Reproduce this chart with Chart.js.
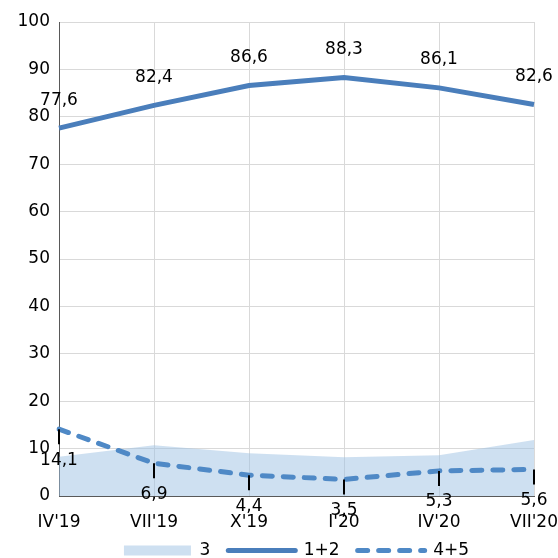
<!DOCTYPE html>
<html>
<head>
<meta charset="utf-8">
<script src="https://cdn.jsdelivr.net/npm/chart.js@4/dist/chart.umd.min.js"></script>
<style>
  html, body { margin: 0; padding: 0; background: #ffffff; }
  #wrap { width: 558px; height: 558px; }
</style>
</head>
<body>
<div id="wrap"><canvas id="chart" width="558" height="558"></canvas></div>
<script>
// Survey shares by quarter (percent)
const categories = ["IV'19", "VII'19", "X'19", "I'20", "IV'20", "VII'20"];
const share3  = [8.3, 10.7, 9.0, 8.2, 8.6, 11.8];
const share12 = [77.6, 82.4, 86.6, 88.3, 86.1, 82.6];
const share45 = [14.1, 6.9, 4.4, 3.5, 5.3, 5.6];
const seriesNames = ["3", "1+2", "4+5"];

const FONT = "'DejaVu Sans', Verdana, sans-serif";
const BLUE_SOLID = '#4a7ebb';
const BLUE_DASH = '#4f89c6';
const AREA_FILL = 'rgba(158, 194, 228, 0.5)';

const fmt = v => v.toFixed(1).replace('.', ',');

// Value labels: above the solid line, below the dashed line with a short leader
const valueLabels = {
  id: 'valueLabels',
  afterDatasetsDraw(chart) {
    const ctx = chart.ctx;
    ctx.save();
    ctx.font = '17px ' + FONT;
    ctx.fillStyle = '#000000';
    ctx.textAlign = 'center';
    ctx.textBaseline = 'middle';
    chart.data.datasets.forEach((ds, i) => {
      if (!ds.labelMode) return;
      const meta = chart.getDatasetMeta(i);
      meta.data.forEach((pt, j) => {
        const txt = fmt(ds.data[j]);
        if (ds.labelMode === 'above') {
          ctx.fillText(txt, pt.x, pt.y - 28);
        } else {
          ctx.strokeStyle = '#000000';
          ctx.lineWidth = 2;
          ctx.beginPath();
          ctx.moveTo(pt.x, pt.y);
          ctx.lineTo(pt.x, pt.y + 15);
          ctx.stroke();
          ctx.fillText(txt, pt.x, pt.y + 31);
        }
      });
    });
    ctx.restore();
  }
};

// Pull the legend row a little closer to the axis labels
const legendNudge = {
  id: 'legendNudge',
  afterLayout(chart) {
    if (chart.legend) {
      chart.legend.top -= 10;
      chart.legend.bottom -= 10;
    }
  }
};

new Chart(document.getElementById('chart'), {
  type: 'line',
  data: {
    labels: categories,
    datasets: [
      {
        label: seriesNames[0],
        data: share3,
        fill: 'origin',
        backgroundColor: AREA_FILL,
        borderWidth: 0,
        borderColor: 'rgba(0,0,0,0)',
        pointRadius: 0,
        tension: 0,
        order: 2,
        legendStyle: 'rect'
      },
      {
        label: seriesNames[1],
        data: share12,
        fill: false,
        borderColor: BLUE_SOLID,
        borderWidth: 5,
        pointRadius: 0,
        tension: 0,
        order: 1,
        labelMode: 'above',
        legendStyle: 'line'
      },
      {
        label: seriesNames[2],
        data: share45,
        fill: false,
        borderColor: BLUE_DASH,
        borderWidth: 5,
        borderDash: [10, 11],
        borderCapStyle: 'round',
        pointRadius: 0,
        tension: 0,
        order: 1,
        labelMode: 'below',
        legendStyle: 'line'
      }
    ]
  },
  options: {
    responsive: false,
    devicePixelRatio: 1,
    animation: false,
    layout: { padding: { left: 0, right: 24, top: 22, bottom: -21 } },
    scales: {
      x: {
        offset: false,
        grid: { color: '#d9d9d9', drawTicks: false, offset: false },
        border: { color: '#595959', width: 1 },
        ticks: { color: '#000000', font: { family: FONT, size: 17 }, padding: 16, maxRotation: 0, autoSkip: false },
        afterFit: s => { s.height = 38; s.paddingLeft = 0; s.paddingRight = 0; }
      },
      y: {
        min: 0,
        max: 100,
        grid: { color: '#d9d9d9', drawTicks: false },
        border: { color: '#595959', width: 1 },
        ticks: { stepSize: 10, color: '#000000', font: { family: FONT, size: 17 }, padding: 9 },
        afterFit: s => { s.width = 59; }
      }
    },
    plugins: {
      tooltip: { enabled: false },
      legend: {
        position: 'bottom',
        fullSize: false,
        labels: {
          usePointStyle: true,
          pointStyleWidth: 67,
          boxHeight: 10,
          padding: 18,
          color: '#000000',
          font: { family: FONT, size: 17 },
          sort: (a, b) => a.datasetIndex - b.datasetIndex,
          generateLabels: chart => chart.data.datasets.map((ds, i) => ({
            text: ds.label,
            datasetIndex: i,
            hidden: false,
            pointStyle: ds.legendStyle,
            fillStyle: ds.legendStyle === 'rect' ? AREA_FILL : ds.borderColor,
            strokeStyle: ds.borderColor,
            lineWidth: ds.legendStyle === 'rect' ? 0 : 5,
            lineDash: ds.borderDash || [],
            lineCap: 'round',
            fontColor: '#000000'
          }))
        }
      }
    }
  },
  plugins: [valueLabels, legendNudge]
});
</script>
</body>
</html>
